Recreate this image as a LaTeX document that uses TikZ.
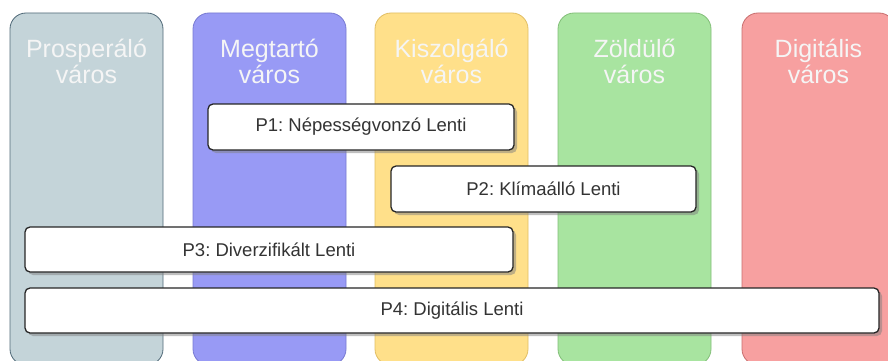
\documentclass[tikz,border=0pt]{standalone}
\usepackage{fontspec}
\setmainfont{Liberation Sans}
\usetikzlibrary{shadows}
\frenchspacing

\definecolor{prosp}{RGB}{196,212,217}
\definecolor{prospline}{RGB}{80,105,120}
\definecolor{megt}{RGB}{152,154,245}
\definecolor{megtline}{RGB}{120,122,210}
\definecolor{kisz}{RGB}{255,224,138}
\definecolor{kiszline}{RGB}{225,190,100}
\definecolor{zold}{RGB}{168,228,160}
\definecolor{zoldline}{RGB}{130,190,120}
\definecolor{digi}{RGB}{247,160,160}
\definecolor{digiline}{RGB}{200,110,110}

\tikzset{
  varos/.style={draw=#1line, fill=#1, line width=0.8pt, rounded corners=16pt},
  varoslabel/.style={text=white!96!black, font=\fontsize{25}{26}\selectfont, anchor=base},
  lane/.style={draw=black!85, fill=white, line width=1.3pt, rounded corners=5pt,
    drop shadow={shadow xshift=3pt, shadow yshift=-3pt, opacity=0.5},
    text=black!80, font=\fontsize{18.5}{20}\selectfont, inner sep=0pt}
}

\begin{document}
\begin{tikzpicture}[x=1pt, y=-1pt]
    \useasboundingbox (0,0) rectangle (888,361);
    \clip (0,0) rectangle (888,361);
    \fill[white] (0,0) rectangle (888,361);
    % columns
    \foreach \c/\x/\top in {prosp/10/Prosperáló, megt/193/Megtartó, kisz/375/Kiszolgáló, zold/558/Zöldülő, digi/742/Digitális}{
        \draw[varos=\c] (\x,13) rectangle ++(153,352);
        \node[varoslabel] (\c-top) at (\x+76.5,57) {\top};
        \node[varoslabel] (\c-bot) at (\x+76.5,83) {város};
    }
    % lanes
    \node[lane, minimum width=306pt, minimum height=46pt] (p1) at (361,127) {P1: Népességvonzó Lenti};
    \node[lane, minimum width=305pt, minimum height=46pt] (p2) at (543.5,189) {P2: Klímaálló Lenti};
    \node[lane, minimum width=488pt, minimum height=45pt] (p3) at (269,249.5) {P3: Diverzifikált Lenti};
    \node[lane, minimum width=854pt, minimum height=45pt] (p4) at (452,310.5) {P4: Digitális Lenti};
\end{tikzpicture}
\end{document}
